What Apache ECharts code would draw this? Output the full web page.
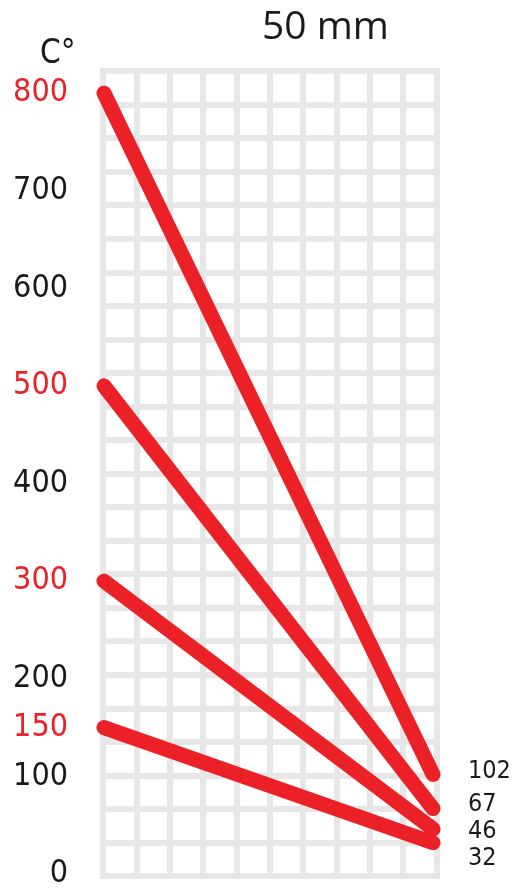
<!DOCTYPE html>
<html>
<head>
<meta charset="utf-8">
<script src="https://cdn.jsdelivr.net/npm/echarts@6/dist/echarts.min.js"></script>
<style>
  html, body { margin: 0; padding: 0; background: #fff; }
  #main { width: 513px; height: 890px; }
</style>
</head>
<body>
<div id="main"></div>
<script>
// 厚度位置 (mm)
var thickness = [0, 50];
// 起始温度 / 末端温度
var startTemps = [800, 500, 300, 150];
var endTemps = [102, 67, 46, 32];
// 纵轴刻度
var yTicks = [0, 100, 150, 200, 300, 400, 500, 600, 700, 800];
var redTicks = [150, 300, 500, 800];

var RED = '#ec2027';
var narrow = '"Liberation Sans Narrow", "DejaVu Sans Condensed", sans-serif';

var myChart = echarts.init(document.getElementById('main'));

// 每条线末端标签的微调
var labelShift = [-3, -4, 2, 16];

var series = [];
for (var i = 0; i < startTemps.length; i++) {
	series.push({
		type: 'line',
		xAxisIndex: 1,
		yAxisIndex: 1,
		showSymbol: false,
		silent: true,
		animation: false,
		z: 5,
		lineStyle: {
			color: RED,
			width: 15,
			cap: 'round'
		},
		endLabel: {
			show: true,
			distance: 35,
			offset: [0, labelShift[i]],
			fontFamily: narrow,
			fontSize: 25,
			color: '#1a1a1a',
			formatter: function (p) { return p.value[1]; }
		},
		data: [[thickness[0], startTemps[i]], [thickness[1], endTemps[i]]]
	});
}

var option = {
	backgroundColor: '#fff',
	animation: false,
	grid: [
		// 背景格子
		{ left: 103, right: 76.5, top: 71, bottom: 14 },
		// 数据
		{ left: 104, right: 80, top: 93, bottom: 15 }
	],
	xAxis: [{
		gridIndex: 0, type: 'value', min: 0, max: 10, interval: 1,
		axisLine: { show: false }, axisTick: { show: false }, axisLabel: { show: false },
		splitLine: { show: true, showMinLine: true, showMaxLine: true,
			lineStyle: { color: '#e7e7e7', width: 6, cap: 'square' } }
	}, {
		gridIndex: 1, type: 'value', min: 0, max: 50,
		axisLine: { show: false }, axisTick: { show: false }, axisLabel: { show: false },
		splitLine: { show: false }
	}],
	yAxis: [{
		gridIndex: 0, type: 'value', min: 0, max: 24, interval: 1,
		axisLine: { show: false }, axisTick: { show: false }, axisLabel: { show: false },
		splitLine: { show: true, showMinLine: true, showMaxLine: true,
			lineStyle: { color: '#e7e7e7', width: 6, cap: 'square' } }
	}, {
		gridIndex: 1, type: 'value', min: 0, max: 800,
		axisLine: { show: false },
		axisTick: { show: false },
		splitLine: { show: false },
		axisLabel: {
			customValues: yTicks,
			margin: 36,
			fontFamily: narrow,
			fontSize: 32,
			color: function (v) {
				return redTicks.indexOf(Number(v)) >= 0 ? RED : '#1a1a1a';
			}
		}
	}],
	graphic: [{
		type: 'text', left: 262, top: 8,
		style: { text: '50 mm', fontFamily: '"Open Sans", sans-serif', fontSize: 39, fill: '#1a1a1a' }
	}, {
		type: 'text', left: 40, top: 38,
		style: { text: 'C°', fontFamily: narrow, fontSize: 33, fill: '#1a1a1a' }
	}],
	series: series
};
myChart.setOption(option);
</script>
</body>
</html>
